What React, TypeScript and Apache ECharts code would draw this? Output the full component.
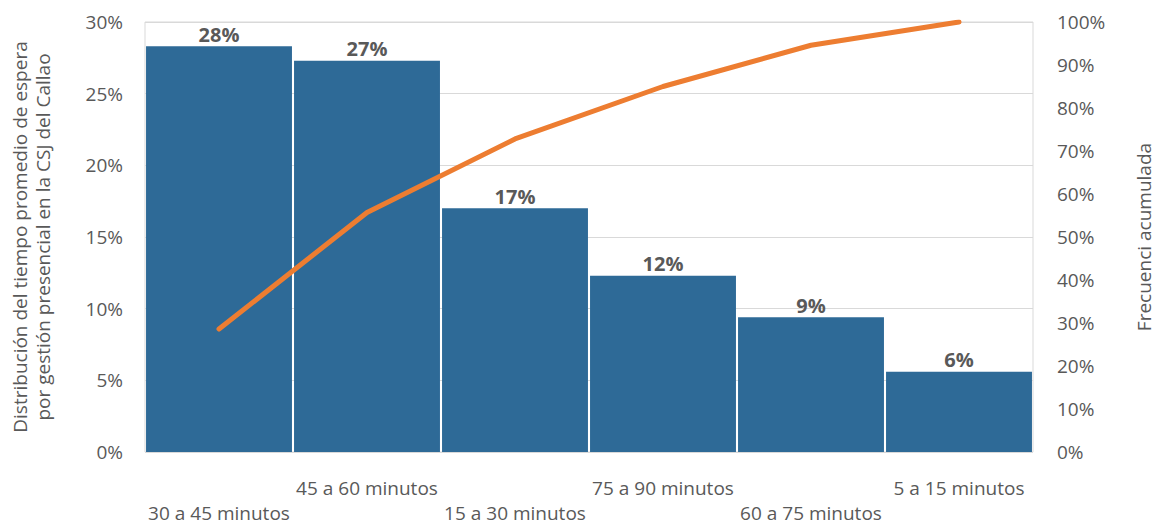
import React, { useEffect, useRef } from "react";
import * as echarts from "echarts";

const categories = [
  "30 a 45 minutos",
  "45 a 60 minutos",
  "15 a 30 minutos",
  "75 a 90 minutos",
  "60 a 75 minutos",
  "5 a 15 minutos",
];
const distribution = [28.3, 27.3, 17.0, 12.3, 9.4, 5.6];
const cumulative = [28.6, 55.7, 72.8, 85.0, 94.6, 100.0];
const leftTicks = [0, 5, 10, 15, 20, 25, 30];
const rightTicks = [0, 10, 20, 30, 40, 50, 60, 70, 80, 90, 100];

const FONT = "Open Sans";
const GRAY = "#595959";

export default function App() {
  const ref = useRef<HTMLDivElement>(null);
  useEffect(() => {
    if (!ref.current) return;
    const chart = echarts.init(ref.current, undefined, { renderer: "svg" });
    chart.setOption({
      animation: false,
      textStyle: { fontFamily: FONT },
      grid: {
        left: 145,
        right: 123,
        top: 22,
        bottom: 74,
        outerBoundsMode: "none",
        containLabel: false,
        show: true,
        borderColor: "#d9d9d9",
        borderWidth: 1,
      },
      xAxis: {
        type: "category",
        data: categories,
        axisTick: { show: false },
        axisLine: { show: false },
        axisLabel: {
          interval: 0,
          color: GRAY,
          fontSize: 19,
          fontFamily: FONT,
          margin: 23,
          lineHeight: 25,
          formatter: (v: string, i: number) => (i % 2 === 0 ? "\n" + v : v),
        },
      },
      yAxis: [
        {
          type: "value",
          min: leftTicks[0],
          max: leftTicks[leftTicks.length - 1],
          interval: 5,
          axisLine: { show: false },
          axisTick: { show: false },
          splitLine: { lineStyle: { color: "#d9d9d9", width: 1 } },
          axisLabel: {
            color: GRAY,
            fontSize: 19,
            fontFamily: FONT,
            margin: 22,
            formatter: (v: number) => v + "%",
          },
          name:
            "Distribución del tiempo promedio de espera\npor gestión presencial en la CSJ del Callao",
          nameLocation: "middle",
          nameGap: 91,
          nameTextStyle: {
            color: GRAY,
            fontSize: 19,
            fontFamily: FONT,
            lineHeight: 23,
          },
        },
        {
          type: "value",
          min: rightTicks[0],
          max: rightTicks[rightTicks.length - 1],
          interval: 10,
          axisLine: { show: false },
          axisTick: { show: false },
          splitLine: { show: false },
          axisLabel: {
            color: GRAY,
            fontSize: 19,
            fontFamily: FONT,
            margin: 24,
            formatter: (v: number) => v + "%",
          },
          name: "Frecuenci acumulada",
          nameLocation: "middle",
          nameGap: 100,
          nameRotate: 90,
          nameTextStyle: { color: GRAY, fontSize: 19, fontFamily: FONT, lineHeight: 22 },
        },
      ],
      series: [
        {
          type: "bar",
          data: distribution,
          yAxisIndex: 0,
          barCategoryGap: "1.4%",
          itemStyle: { color: "#2E6A97" },
          label: {
            show: true,
            position: "top",
            distance: 2,
            color: GRAY,
            fontWeight: "bold",
            fontSize: 20,
            fontFamily: FONT,
            formatter: (p: any) => Math.round(p.value) + "%",
          },
        },
        {
          type: "line",
          data: cumulative,
          yAxisIndex: 1,
          showSymbol: false,
          symbol: "none",
          lineStyle: { color: "#ED7D31", width: 5, cap: "round" },
          z: 5,
        },
      ],
    });
    return () => chart.dispose();
  }, []);
  return (
    <div
      ref={ref}
      style={{ position: "absolute", left: 0, top: 0, width: 1156, height: 526 }}
    />
  );
}
